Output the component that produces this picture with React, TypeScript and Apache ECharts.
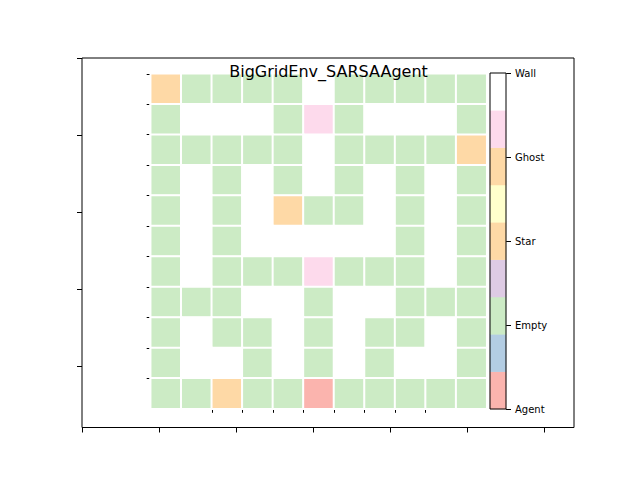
import React, { useEffect, useRef } from "react";
import * as echarts from "echarts";

const TITLE = "BigGridEnv_SARSAAgent";
// cell type codes: 0 Agent, 1 Empty, 2 Star, 3 Ghost, 4 Wall
const cellTypes = ["Agent", "Empty", "Star", "Ghost", "Wall"];
const gridRows: number[][] = [
  [2, 1, 1, 1, 1, 4, 1, 1, 1, 1, 1],
  [1, 4, 4, 4, 1, 3, 1, 4, 4, 4, 1],
  [1, 1, 1, 1, 1, 4, 1, 1, 1, 1, 2],
  [1, 4, 1, 4, 1, 4, 1, 4, 1, 4, 1],
  [1, 4, 1, 4, 2, 1, 1, 4, 1, 4, 1],
  [1, 4, 1, 4, 4, 4, 4, 4, 1, 4, 1],
  [1, 4, 1, 1, 1, 3, 1, 1, 1, 4, 1],
  [1, 1, 1, 4, 4, 1, 4, 4, 1, 1, 1],
  [1, 4, 1, 1, 4, 1, 4, 1, 1, 4, 1],
  [1, 4, 4, 1, 4, 1, 4, 1, 4, 4, 1],
  [1, 1, 2, 1, 1, 0, 1, 1, 1, 1, 1],
];
const colorbarBands = [0, 1, 2, 3, 4, 5, 6, 7, 8];
const colorbarTicks = [0, 1, 2, 3, 4];
const outerXTicks = [0, 1, 2, 3, 4, 5, 6];
const outerYTicks = [0, 1, 2, 3, 4];
const innerXTicks = [2, 3, 4, 5, 6, 7, 8, 9];
const innerYTicks = [0, 1, 2, 3, 4, 5, 6, 7, 8, 9, 10];

const typeColors = ["#fbb4ae", "#ccebc5", "#fed9a6", "#fddaec", "#ffffff"];
const bandColors = ["#fbb4ae", "#b3cde3", "#ccebc5", "#decbe4", "#fed9a6", "#ffffcc", "#fed9a6", "#fddaec", "#ffffff"];

export default function App() {
  const ref = useRef<HTMLDivElement>(null);
  useEffect(() => {
    if (!ref.current) return;
    const chart = echarts.init(ref.current, undefined, { renderer: "svg" });
    const nCols = gridRows[0].length;
    const nRows = gridRows.length;
    const colCats = gridRows[0].map((_, i) => String(i));
    const rowCats = gridRows.map((_, i) => String(i));
    const heatData: number[][] = [];
    gridRows.forEach((row, r) => row.forEach((v, c) => heatData.push([c, r, v])));
    const bandData = colorbarBands.map((b, i) => [0, i, b]);
    const tickStyle = { color: "#000", width: 1 };

    const hL = 150.7, hT = 73.8, hW = 336, hH = 335;

    chart.setOption({
      animation: false,
      backgroundColor: "#ffffff",
      textStyle: { fontFamily: "DejaVu Sans" },
      grid: [
        { left: 82, top: 58, width: 492, height: 369.5, show: true, borderColor: "#000", borderWidth: 1, backgroundColor: "transparent" },
        { left: hL, top: hT, width: hW, height: hH },
        { left: hL, top: hT, width: hW, height: hH },
        { left: 490, top: 73, width: 16, height: 336 },
      ],
      xAxis: [
        {
          gridIndex: 0, type: "value", min: 0, max: 492 / 77, position: "bottom",
          axisLine: { show: false, onZero: false }, splitLine: { show: false }, axisLabel: { show: false },
          axisTick: { show: true, length: 5, lineStyle: tickStyle, customValues: outerXTicks },
        },
        { gridIndex: 1, type: "category", data: colCats, show: false },
        {
          gridIndex: 2, type: "value", min: 0, max: nCols, position: "bottom",
          axisLine: { show: false, onZero: false }, splitLine: { show: false }, axisLabel: { show: false },
          axisTick: { show: true, length: 4, lineStyle: tickStyle, customValues: innerXTicks },
        },
        { gridIndex: 3, type: "category", data: ["0"], show: false },
      ],
      yAxis: [
        {
          gridIndex: 0, type: "value", min: 0, max: 369.5 / 77, inverse: true, position: "left",
          axisLine: { show: false, onZero: false }, splitLine: { show: false }, axisLabel: { show: false },
          axisTick: { show: true, length: 5, lineStyle: tickStyle, customValues: outerYTicks },
        },
        { gridIndex: 1, type: "category", data: rowCats, inverse: true, show: false },
        {
          gridIndex: 2, type: "value", min: 0, max: nRows, inverse: true, position: "left",
          axisLine: { show: false, onZero: false }, splitLine: { show: false }, axisLabel: { show: false },
          axisTick: { show: true, length: 4, lineStyle: tickStyle, customValues: innerYTicks },
        },
        { gridIndex: 3, type: "category", data: colorbarBands.map(String), show: false },
        {
          gridIndex: 3, type: "value", min: 0, max: 4, interval: 1, position: "right",
          axisLine: { show: false, onZero: false }, splitLine: { show: false },
          axisTick: { show: true, length: 5, lineStyle: tickStyle, customValues: colorbarTicks },
          axisLabel: {
            show: true, margin: 9, fontSize: 10, color: "#000", fontFamily: "DejaVu Sans",
            customValues: colorbarTicks,
            formatter: (v: number) => cellTypes[Math.round(v)] ?? "",
          },
        },
      ],
      visualMap: [
        { type: "piecewise", show: false, seriesIndex: 0, dimension: 2, pieces: typeColors.map((c, i) => ({ value: i, color: c })) },
        { type: "piecewise", show: false, seriesIndex: 1, dimension: 2, pieces: bandColors.map((c, i) => ({ value: i, color: c })) },
      ],
      series: [
        {
          type: "heatmap", xAxisIndex: 1, yAxisIndex: 1, data: heatData,
          itemStyle: { borderColor: "#ffffff", borderWidth: 2 },
          emphasis: { disabled: true }, silent: true,
        },
        {
          type: "heatmap", xAxisIndex: 3, yAxisIndex: 3, data: bandData,
          itemStyle: { borderWidth: 0 },
          emphasis: { disabled: true }, silent: true,
        },
      ],
      graphic: [
        {
          type: "rect", z: 100, silent: true,
          shape: { x: 490, y: 73, width: 16, height: 336 },
          style: { fill: "none", stroke: "#000", lineWidth: 1 },
        },
        {
          type: "text", z: 100, x: 328.5, y: 71,
          style: { text: TITLE, fontSize: 16, fontFamily: "DejaVu Sans", fill: "#000", textAlign: "center", textVerticalAlign: "middle" },
        },
      ],
    });
    return () => chart.dispose();
  }, []);
  return <div ref={ref} style={{ position: "fixed", left: 0, top: 0, width: 640, height: 480 }} />;
}
